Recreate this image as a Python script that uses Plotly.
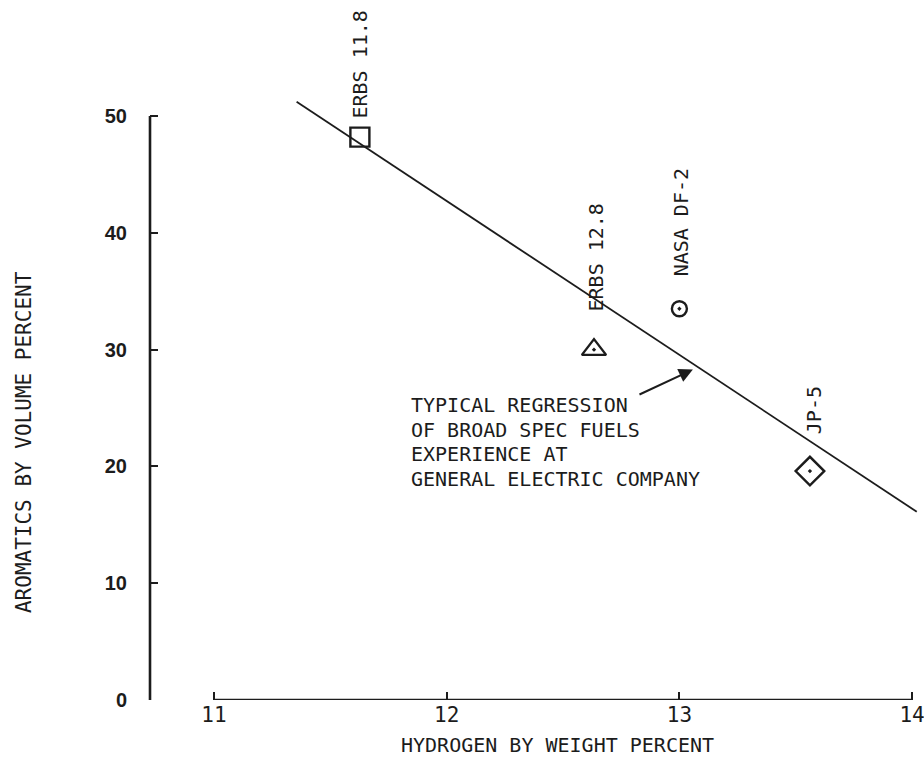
import plotly.graph_objects as go

# Fuel samples: hydrogen content (wt %) vs aromatics (vol %)
fuel_names = ["ERBS 11.8", "ERBS 12.8", "NASA DF-2", "JP-5"]
hydrogen_pct = [11.627, 12.633, 13.0, 13.561]
aromatics_pct = [48.2, 30.0, 33.5, 19.6]
marker_symbols = ["square-open", "triangle-up-open-dot", "circle-open-dot", "diamond-open-dot"]
marker_sizes = [19, 21, 15, 22]

# Anchor positions for the rotated fuel names
label_x = [11.627, 12.642, 13.007, 13.582]
label_y = [54.4, 37.9, 40.9, 24.8]

# Typical regression line end points
reg_x = [11.355, 14.02]
reg_y = [51.22, 16.12]

# Regression note, one entry per text line
note_lines = ["TYPICAL REGRESSION", "OF BROAD SPEC FUELS",
              "EXPERIENCE AT", "GENERAL ELECTRIC COMPANY"]
note_x = 11.838
note_y = [25.26, 23.16, 21.06, 18.96]
arrow_tail = (12.822, 26.1)
arrow_head = (13.058, 28.3)

x_ticks = [11, 12, 13, 14]
y_ticks = [0, 10, 20, 30, 40, 50]

INK = "#1c1c1c"
MONO = "DejaVu Sans Mono"

fig = go.Figure()

fig.add_trace(go.Scatter(
    x=reg_x, y=reg_y, mode="lines",
    line=dict(color=INK, width=1.8),
    hoverinfo="skip", showlegend=False,
))

fig.add_trace(go.Scatter(
    x=hydrogen_pct, y=aromatics_pct, mode="markers",
    marker=dict(symbol=marker_symbols, size=marker_sizes, color=INK, opacity=1,
                line=dict(color=INK, width=2.4)),
    cliponaxis=False, showlegend=False,
))

# Rotated fuel labels
for name, lx, ly in zip(fuel_names, label_x, label_y):
    fig.add_annotation(x=lx, y=ly, xref="x", yref="y", text=name,
                       textangle=-90, showarrow=False,
                       font=dict(family=MONO, size=20, color=INK))

# Regression note with arrow
for line_text, ly in zip(note_lines, note_y):
    fig.add_annotation(x=note_x, y=ly, xref="x", yref="y", text=line_text,
                       xanchor="left", yanchor="middle", align="left", showarrow=False,
                       font=dict(family=MONO, size=20, color=INK))
fig.add_annotation(x=arrow_head[0], y=arrow_head[1], ax=arrow_tail[0], ay=arrow_tail[1],
                   xref="x", yref="y", axref="x", ayref="y", text="",
                   showarrow=True, arrowhead=2, arrowsize=1.4, arrowwidth=2,
                   arrowcolor=INK)

# Axis titles
fig.add_annotation(x=0.530, y=-0.0688, xref="paper", yref="paper",
                   xanchor="center", yanchor="middle",
                   text="HYDROGEN BY WEIGHT PERCENT", showarrow=False,
                   font=dict(family=MONO, size=20, color=INK))
fig.add_annotation(x=-0.164, y=0.3945, xref="paper", yref="paper",
                   xanchor="center", yanchor="middle",
                   text="AROMATICS BY VOLUME PERCENT", textangle=-90, showarrow=False,
                   font=dict(family=MONO, size=21, color=INK))

# Axis lines (x axis spans 11-14, y axis spans 0-50)
fig.add_shape(type="line", xref="x", yref="y", x0=x_ticks[0], x1=x_ticks[-1], y0=0, y1=0,
              line=dict(color=INK, width=2.4))
fig.add_shape(type="line", xref="paper", yref="y", x0=0, x1=0, y0=y_ticks[0], y1=y_ticks[-1],
              line=dict(color=INK, width=2.6))

fig.update_xaxes(range=[10.725, 14.0254], tickvals=x_ticks, ticks="inside", ticklen=8,
                 tickwidth=2, tickcolor=INK, showline=False, showgrid=False, zeroline=False,
                 tickfont=dict(family=MONO, size=21, color=INK), ticklabelstandoff=0,
                 ticklabeloverflow="allow", automargin=False)
fig.update_yaxes(range=[0, 56], tickvals=y_ticks, ticks="inside", ticklen=8,
                 tickwidth=2, tickcolor=INK, showline=False, showgrid=False, zeroline=False,
                 tickfont=dict(family="Liberation Sans", size=20, color=INK, weight="bold"),
                 ticklabelstandoff=22, automargin=False)

fig.update_layout(
    width=924, height=759,
    margin=dict(l=150, r=6, t=46, b=59),
    paper_bgcolor="white", plot_bgcolor="white",
)

fig.write_html("out.html")
